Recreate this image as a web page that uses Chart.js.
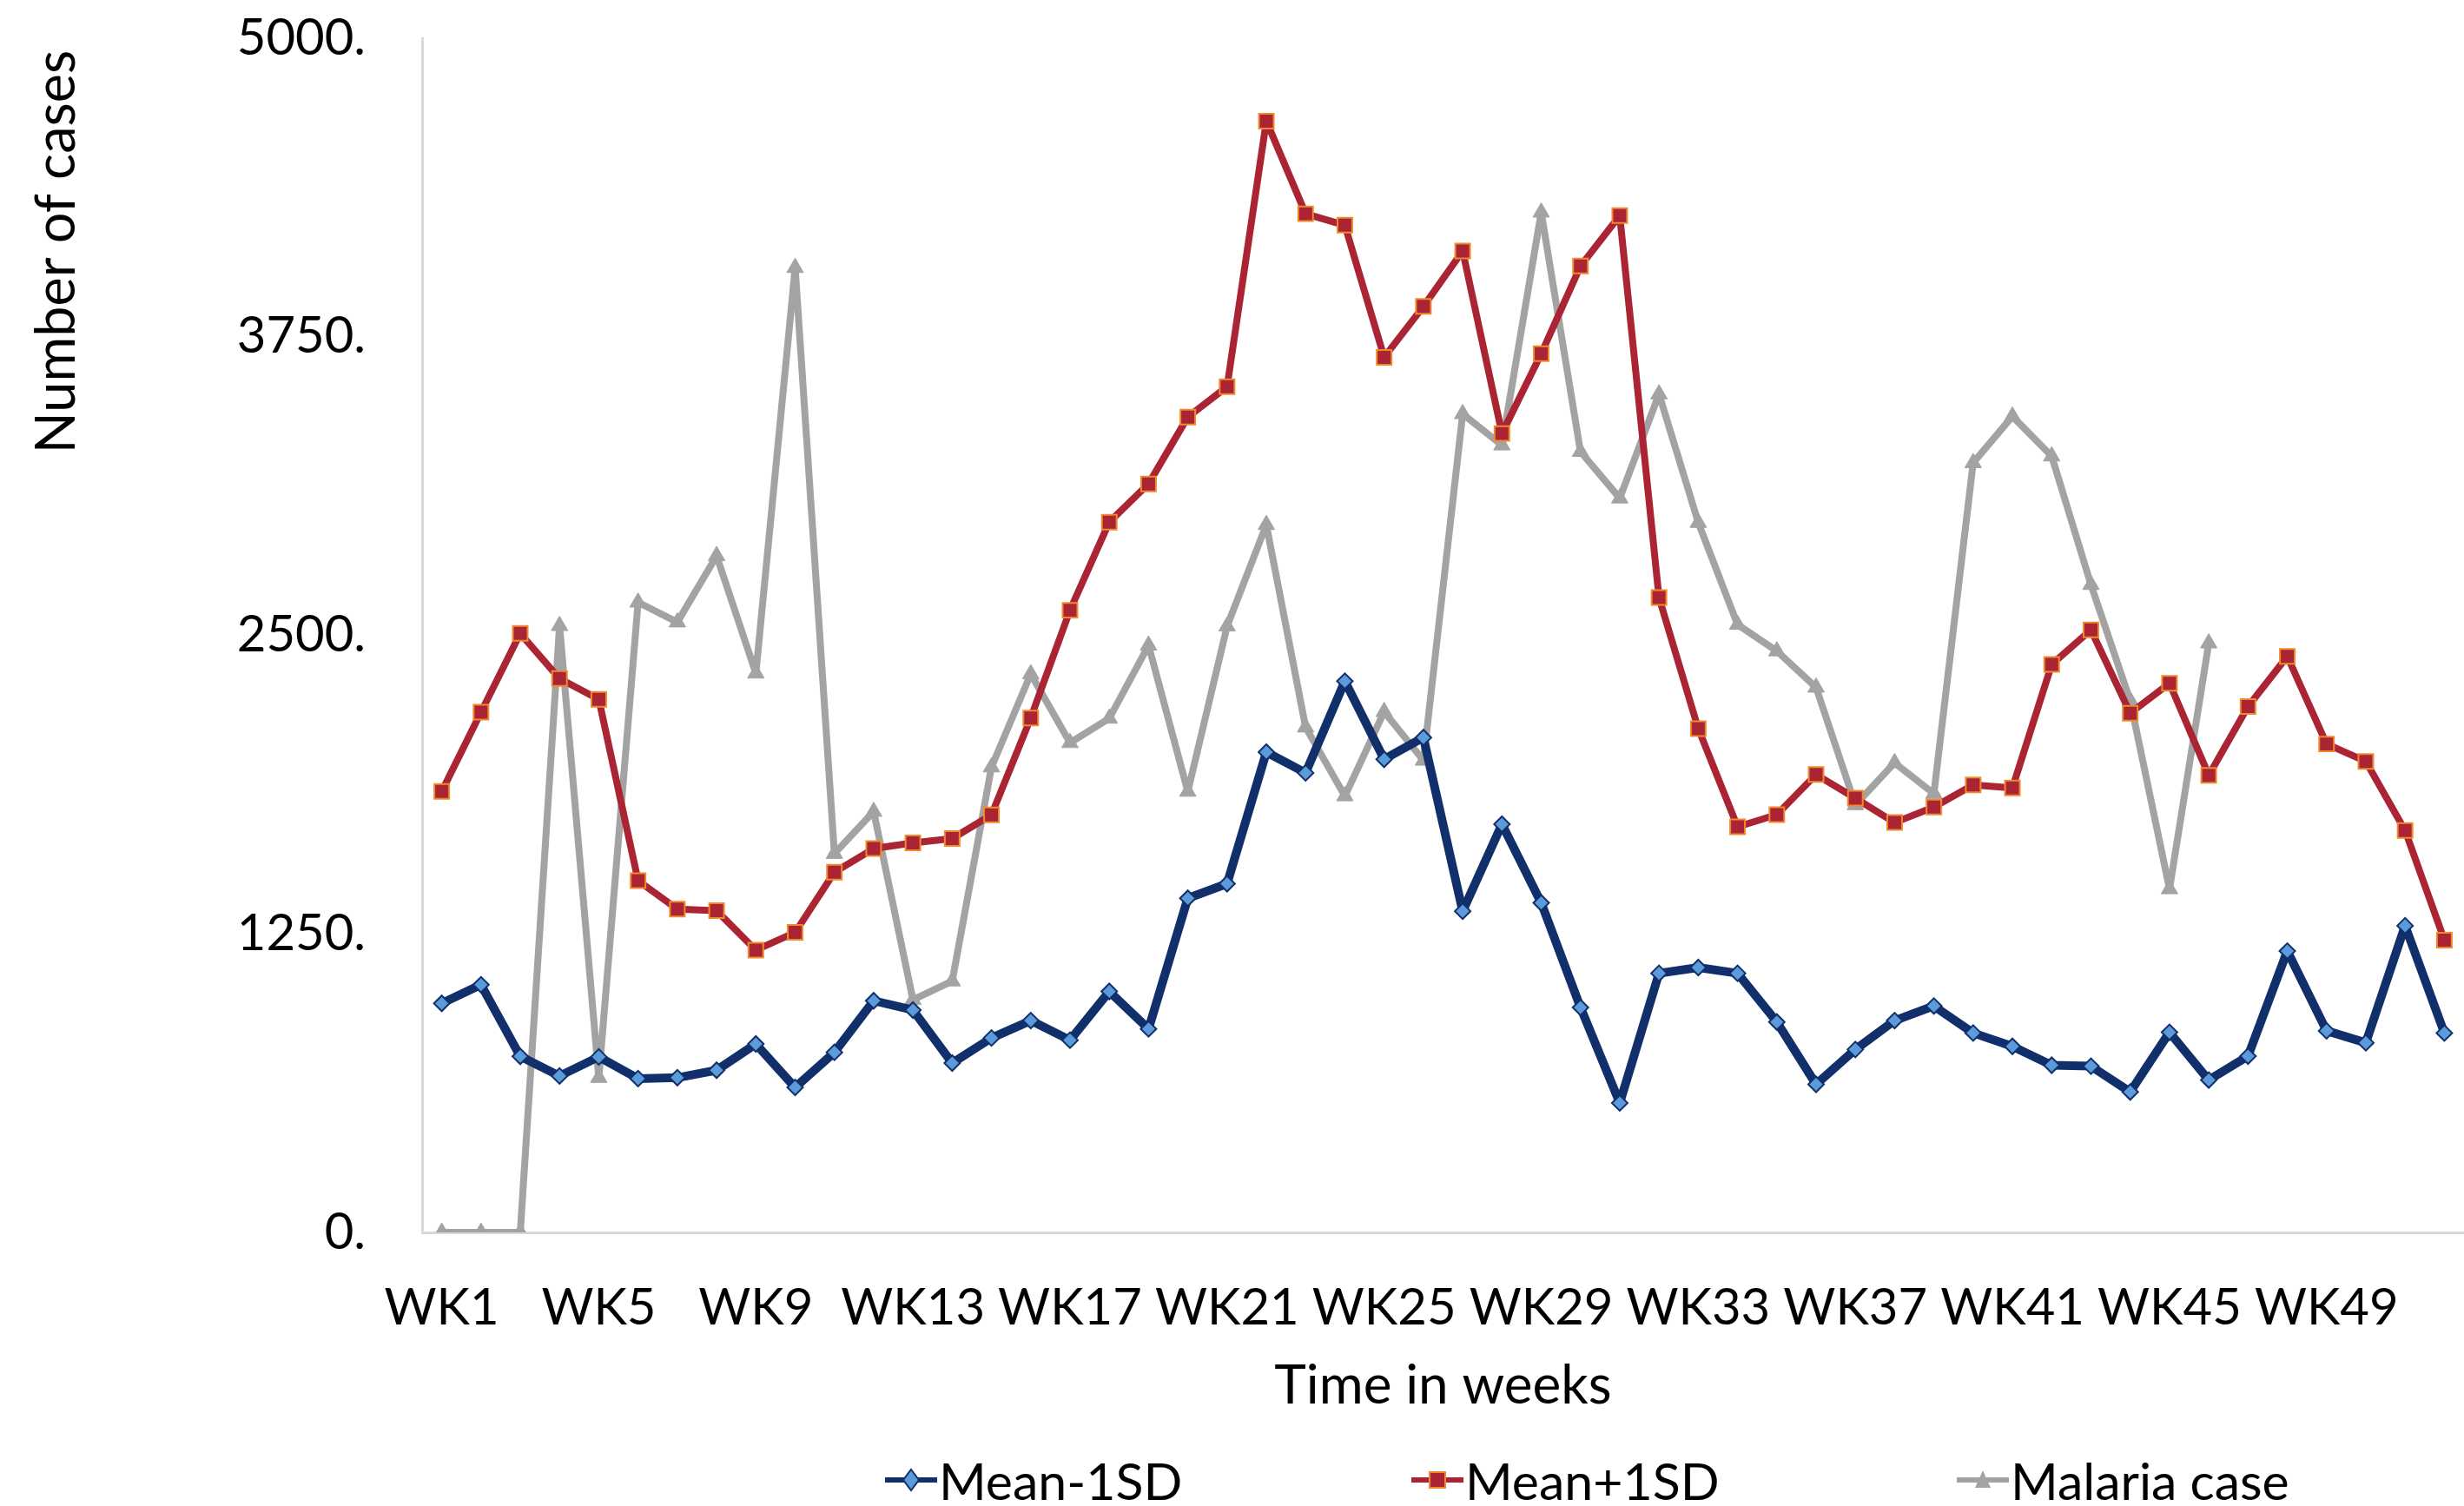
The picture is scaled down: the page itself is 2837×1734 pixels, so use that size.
<!DOCTYPE html>
<html>
<head>
<meta charset="utf-8">
<title>Malaria cases by week</title>
<script src="https://cdn.jsdelivr.net/npm/chart.js@4.4.1/dist/chart.umd.min.js"></script>
<style>
	html, body { margin: 0; padding: 0; background: #ffffff; overflow: hidden; }
	#wrap { position: relative; width: 2837px; height: 1734px; overflow: hidden; }
	#legend { position: absolute; left: 0; top: 1674px; width: 2837px; height: 60px; font-family: Lato, sans-serif; font-size: 59px; color: #000; }
	.item { position: absolute; top: 0; display: flex; align-items: center; height: 60px; white-space: nowrap; }
	.item svg { margin-right: 2px; }
</style>
</head>
<body>
<div id="wrap">
	<canvas id="casesChart"></canvas>
	<div id="legend"></div>
</div>
<script>
// week labels WK1..WK52
const weeks = [];
for (let i = 1; i <= 52; i++) weeks.push('WK' + i);

const yTicks = [0, 1250, 2500, 3750, 5000];

// values
const meanMinus1SD = [
	959, 1037, 737, 655, 735, 644, 648, 679, 789, 607,
	754, 970, 931, 709, 814, 887, 805, 1009, 852, 1399,
	1460, 2011, 1924, 2308, 1981, 2072, 1345, 1709, 1380, 942,
	542, 1085, 1109, 1085, 881, 620, 766, 887, 948, 835,
	779, 700, 696, 588, 838, 638, 738, 1178, 844, 794,
	1284, 835,
];

const meanPlus1SD = [
	1846, 2178, 2508, 2319, 2232, 1473, 1354, 1347, 1182, 1256,
	1508, 1607, 1631, 1649, 1748, 2154, 2605, 2974, 3134, 3414,
	3541, 4653, 4265, 4217, 3664, 3877, 4109, 3345, 3679, 4046,
	4257, 2658, 2109, 1698, 1749, 1917, 1818, 1716, 1781, 1874,
	1861, 2378, 2523, 2174, 2299, 1914, 2202, 2412, 2045, 1972,
	1683, 1224,
];

const malariaCases = [
	0, 0, 0, 2540, 648, 2638, 2555, 2833, 2341, 4039,
	1586, 1762, 974, 1052, 1948, 2338, 2050, 2152, 2458, 1846,
	2538, 2963, 2115, 1827, 2180, 1976, 3427, 3296, 4271, 3269,
	3074, 3510, 2972, 2545, 2434, 2282, 1790, 1966, 1837, 3222,
	3417, 3250, 2712, 2226, 1438, 2467,
];

const seriesNames = ['Mean-1SD', 'Mean+1SD', 'Malaria case'];

const FONT = 'Lato, sans-serif';

// y axis title sits near the top in the original, so draw it by hand
const yTitlePlugin = {
	id: 'yTitle',
	afterDraw (chart) {
		const ctx = chart.ctx;
		ctx.save();
		ctx.translate(66, 290);
		ctx.rotate(-Math.PI / 2);
		ctx.font = '63px ' + FONT;
		ctx.fillStyle = '#000000';
		ctx.textAlign = 'center';
		ctx.textBaseline = 'middle';
		ctx.fillText('Number of cases', 0, 0);
		ctx.restore();
	},
};

const ctx = document.getElementById('casesChart').getContext('2d');
const chart = new Chart(ctx, {
	type: 'line',
	data: {
		labels: weeks,
		datasets: [{
			label: seriesNames[0],
			data: meanMinus1SD,
			borderColor: '#112f6b',
			borderWidth: 10,
			borderJoinStyle: 'round',
			backgroundColor: '#5b9bd9',
			pointStyle: 'rectRot',
			pointRadius: 9,
			pointBorderWidth: 2,
			pointBorderColor: '#112f6b',
			pointBackgroundColor: '#5b9bd9',
			tension: 0,
		}, {
			label: seriesNames[1],
			data: meanPlus1SD,
			borderColor: '#ab2434',
			borderWidth: 8,
			borderJoinStyle: 'round',
			backgroundColor: '#ab2434',
			pointStyle: 'rect',
			pointRadius: 12,
			pointBorderWidth: 2,
			pointBorderColor: '#f08a2c',
			pointBackgroundColor: '#ab2434',
			tension: 0,
		}, {
			label: seriesNames[2],
			data: malariaCases,
			borderColor: '#a3a3a3',
			borderWidth: 8,
			borderJoinStyle: 'round',
			backgroundColor: '#a3a3a3',
			pointStyle: 'triangle',
			pointRadius: 11,
			pointBorderWidth: 1,
			pointBorderColor: '#a3a3a3',
			pointBackgroundColor: '#a3a3a3',
			tension: 0,
		}],
	},
	options: {
		responsive: true,
		maintainAspectRatio: false,
		animation: false,
		layout: { autoPadding: false, padding: { left: 0, top: 44, right: 0, bottom: 101 } },
		plugins: {
			legend: { display: false },
			tooltip: { enabled: false },
		},
		scales: {
			x: {
				offset: true,
				grid: { display: false, drawTicks: false },
				border: { display: true, color: '#d9d9d9', width: 3 },
				ticks: {
					autoSkip: false,
					maxRotation: 0,
					padding: 52,
					color: '#000000',
					font: { family: FONT, size: 58 },
					callback: (v, i) => (i % 4 === 0 ? weeks[i] : ''),
				},
				title: {
					display: true,
					text: 'Time in weeks',
					color: '#000000',
					font: { family: FONT, size: 62 },
					padding: 0,
				},
				afterFit (scale) {
					scale.height = 214;
					scale.paddingLeft = 0;
					scale.paddingRight = 0;
				},
			},
			y: {
				min: 0,
				max: 5000,
				afterBuildTicks (scale) { scale.ticks = yTicks.map(v => ({ value: v })); },
				grid: { display: false, drawTicks: false },
				border: { display: true, color: '#d9d9d9', width: 3 },
				ticks: {
					padding: 65,
					color: '#000000',
					font: { family: FONT, size: 58 },
					callback: v => v + '.',
				},
				afterFit (scale) {
					scale.width = 486;
					scale.paddingTop = 0;
					scale.paddingBottom = 0;
				},
			},
		},
	},
	plugins: [yTitlePlugin],
});

// html legend, spread out like the original
const swatches = [
	'<polygon points="30,3 39,15 30,27 21,15" fill="#5b9bd9" stroke="#112f6b" stroke-width="2"/>',
	'<rect x="21" y="6" width="18" height="18" fill="#ab2434" stroke="#f08a2c" stroke-width="2"/>',
	'<polygon points="30,4 39,24 21,24" fill="#a3a3a3"/>',
];
const legendX = [1019, 1625, 2253];
const legend = document.getElementById('legend');
chart.data.datasets.forEach((ds, i) => {
	const div = document.createElement('div');
	div.className = 'item';
	div.style.left = legendX[i] + 'px';
	div.innerHTML = '<svg width="60" height="30"><line x1="0" y1="15" x2="60" y2="15" stroke="' +
		ds.borderColor + '" stroke-width="6"/>' + swatches[i] + '</svg>' +
		'<span>' + ds.label + '</span>';
	legend.appendChild(div);
});
</script>
</body>
</html>
